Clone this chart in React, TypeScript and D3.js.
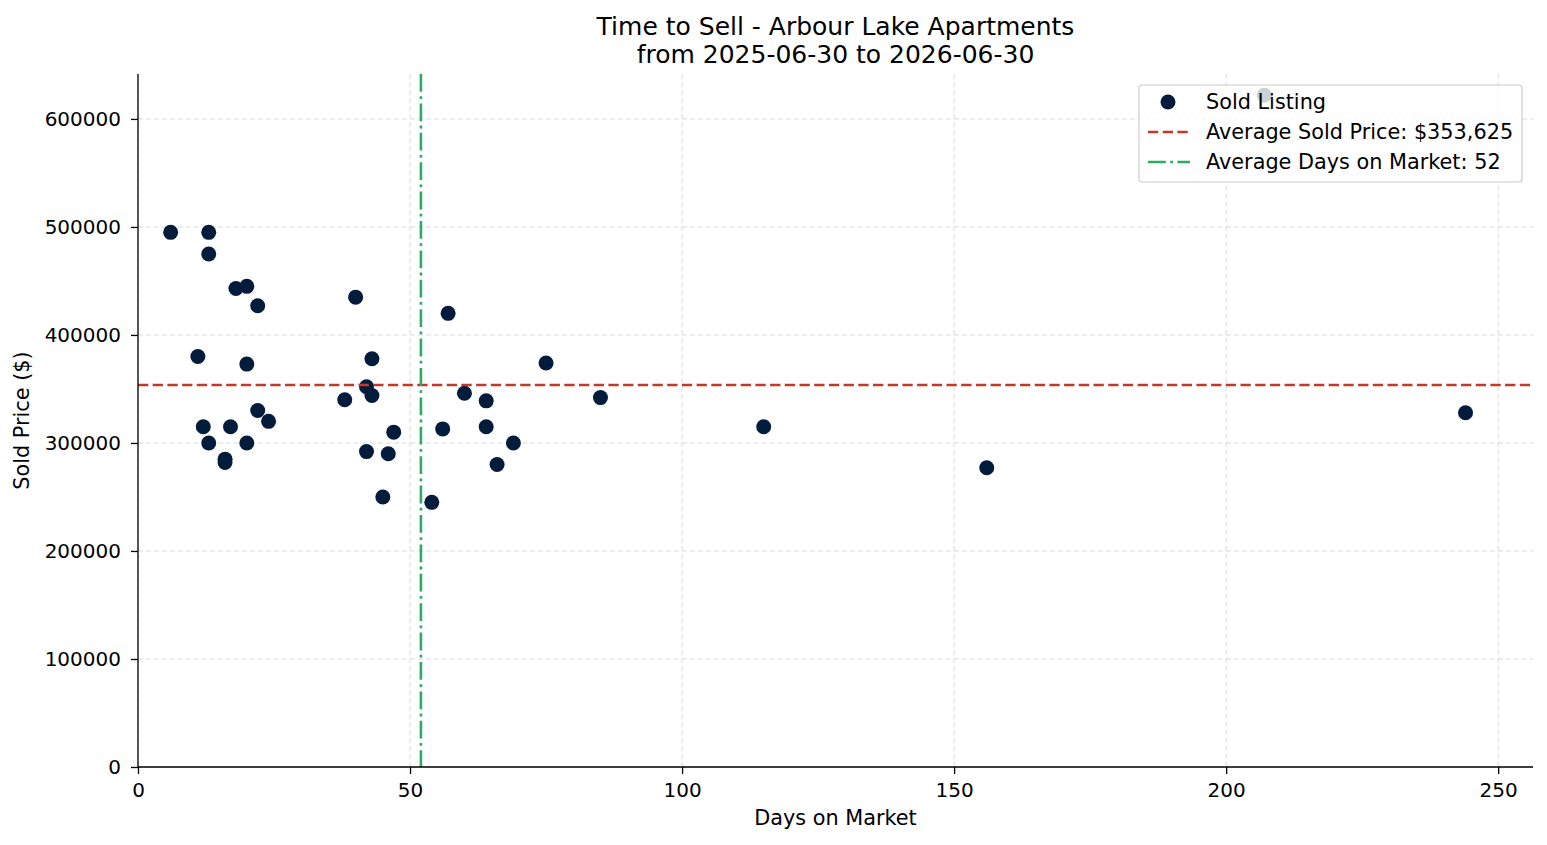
import { useRef, useEffect } from 'react'
import * as d3 from 'd3'

const daysOnMarket = [
  6, 13, 13, 18, 20, 22, 11, 20, 22, 24, 12, 17, 13, 20, 16, 16,
  40, 57, 43, 42, 43, 38, 60, 47, 56, 42, 46, 45, 54,
  75, 64, 85, 64, 69, 66, 115, 156, 244, 207,
]
const soldPrices = [
  495000, 495000, 475000, 443000, 445000, 427000, 380000, 373000, 330000, 320000, 315000, 315000, 300000, 300000, 285000, 282000,
  435000, 420000, 378000, 352000, 344000, 340000, 346000, 310000, 313000, 292000, 290000, 250000, 245000,
  374000, 339000, 342000, 315000, 300000, 280000, 315000, 277000, 328000, 622000,
]
const avgPrice = 353625
const avgDays = 52
const xTicks = [0, 50, 100, 150, 200, 250]
const yTicks = [0, 100000, 200000, 300000, 400000, 500000, 600000]
const legendLabels = ['Sold Listing', 'Average Sold Price: $353,625', 'Average Days on Market: 52']

const W = 1547
const H = 845
const FONT = '"DejaVu Sans", sans-serif'

export default function App() {
  const svgRef = useRef<SVGSVGElement>(null)

  useEffect(() => {
    if (!svgRef.current) return
    const svg = d3.select(svgRef.current)
    svg.selectAll('*').remove()

    const margin = { top: 74, right: 14, bottom: 78, left: 138 }
    const width = W - margin.left - margin.right
    const height = H - margin.top - margin.bottom

    const x = d3.scaleLinear().domain([0, 256.4]).range([0, width])
    const y = d3.scaleLinear().domain([0, 641600]).range([height, 0])

    const g = svg.append('g').attr('transform', `translate(${margin.left},${margin.top})`)

    // grid
    g.append('g')
      .selectAll('line')
      .data(xTicks)
      .join('line')
      .attr('x1', (d) => x(d)).attr('x2', (d) => x(d))
      .attr('y1', 0).attr('y2', height)
      .attr('stroke', '#d6d6d6').attr('stroke-width', 0.9).attr('stroke-dasharray', '5,3')
    g.append('g')
      .selectAll('line')
      .data(yTicks)
      .join('line')
      .attr('x1', 0).attr('x2', width)
      .attr('y1', (d) => y(d)).attr('y2', (d) => y(d))
      .attr('stroke', '#d6d6d6').attr('stroke-width', 0.9).attr('stroke-dasharray', '5,3')

    // points
    const pts = daysOnMarket.map((d, i) => ({ d, p: soldPrices[i] }))
    g.selectAll('circle.pt')
      .data(pts)
      .join('circle')
      .attr('class', 'pt')
      .attr('cx', (d) => x(d.d))
      .attr('cy', (d) => y(d.p))
      .attr('r', 7.5)
      .attr('fill', '#041c3c')

    // average lines
    g.append('line')
      .attr('x1', 0).attr('x2', width)
      .attr('y1', y(avgPrice)).attr('y2', y(avgPrice))
      .attr('stroke', '#c0392b').attr('stroke-width', 2.6).attr('stroke-dasharray', '10.3,4.4')
    g.append('line')
      .attr('x1', x(avgDays)).attr('x2', x(avgDays))
      .attr('y1', 0).attr('y2', height)
      .attr('stroke', '#27ae60').attr('stroke-width', 2.6).attr('stroke-dasharray', '17.8,4.4,2.8,4.4')

    // axes
    const xAxis = g.append('g')
      .attr('transform', `translate(0,${height})`)
      .call(d3.axisBottom(x).tickValues(xTicks).tickSize(7).tickPadding(9).tickFormat(d3.format('d')))
    xAxis.select('.domain').attr('d', `M0,0H${width}`).attr('stroke', '#000').attr('stroke-width', 1.3)
    xAxis.selectAll('.tick line').attr('stroke-width', 1.3)
    xAxis.selectAll('.tick text').attr('font-family', FONT).attr('font-size', '20px').attr('fill', '#000')

    const yAxis = g.append('g')
      .call(d3.axisLeft(y).tickValues(yTicks).tickSize(7).tickPadding(10).tickFormat(d3.format('d')))
    yAxis.select('.domain').attr('d', `M0,${height}V0`).attr('stroke', '#000').attr('stroke-width', 1.3)
    yAxis.selectAll('.tick line').attr('stroke-width', 1.3)
    yAxis.selectAll('.tick text').attr('font-family', FONT).attr('font-size', '20px').attr('fill', '#000')

    // labels
    svg.append('text')
      .attr('x', margin.left + width / 2).attr('y', 825)
      .attr('text-anchor', 'middle')
      .attr('font-family', FONT).attr('font-size', '20.8px')
      .text('Days on Market')
    svg.append('text')
      .attr('transform', `translate(29,${margin.top + height / 2}) rotate(-90)`)
      .attr('text-anchor', 'middle')
      .attr('font-family', FONT).attr('font-size', '20.8px')
      .text('Sold Price ($)')

    const title = svg.append('text')
      .attr('text-anchor', 'middle')
      .attr('font-family', FONT).attr('font-size', '25px')
    title.append('tspan').attr('x', margin.left + width / 2).attr('y', 35).text('Time to Sell - Arbour Lake Apartments')
    title.append('tspan').attr('x', margin.left + width / 2).attr('y', 63).text('from 2025-06-30 to 2026-06-30')

    // legend
    const lg = svg.append('g').attr('transform', 'translate(1139,85)')
    lg.append('rect')
      .attr('width', 383).attr('height', 97).attr('rx', 3)
      .attr('fill', 'rgba(255,255,255,0.8)')
      .attr('stroke', '#cccccc').attr('stroke-width', 1.2)
    const rows = [17, 47, 77]
    lg.append('circle').attr('cx', 29).attr('cy', rows[0]).attr('r', 7.5).attr('fill', '#041c3c')
    lg.append('line')
      .attr('x1', 9).attr('x2', 51).attr('y1', rows[1]).attr('y2', rows[1])
      .attr('stroke', '#c0392b').attr('stroke-width', 2.6).attr('stroke-dasharray', '10.3,4.4')
    lg.append('line')
      .attr('x1', 9).attr('x2', 51).attr('y1', rows[2]).attr('y2', rows[2])
      .attr('stroke', '#27ae60').attr('stroke-width', 2.6).attr('stroke-dasharray', '17.8,4.4,2.8,4.4')
    lg.selectAll('text.lbl')
      .data(legendLabels)
      .join('text')
      .attr('class', 'lbl')
      .attr('x', 67)
      .attr('y', (_, i) => rows[i] + 7)
      .attr('font-family', FONT).attr('font-size', '20.8px')
      .text((d) => d)
  }, [])

  return (
    <div style={{ position: 'fixed', left: 0, top: 0, background: '#fff' }}>
      <svg ref={svgRef} width={W} height={H} style={{ display: 'block' }} />
    </div>
  )
}
